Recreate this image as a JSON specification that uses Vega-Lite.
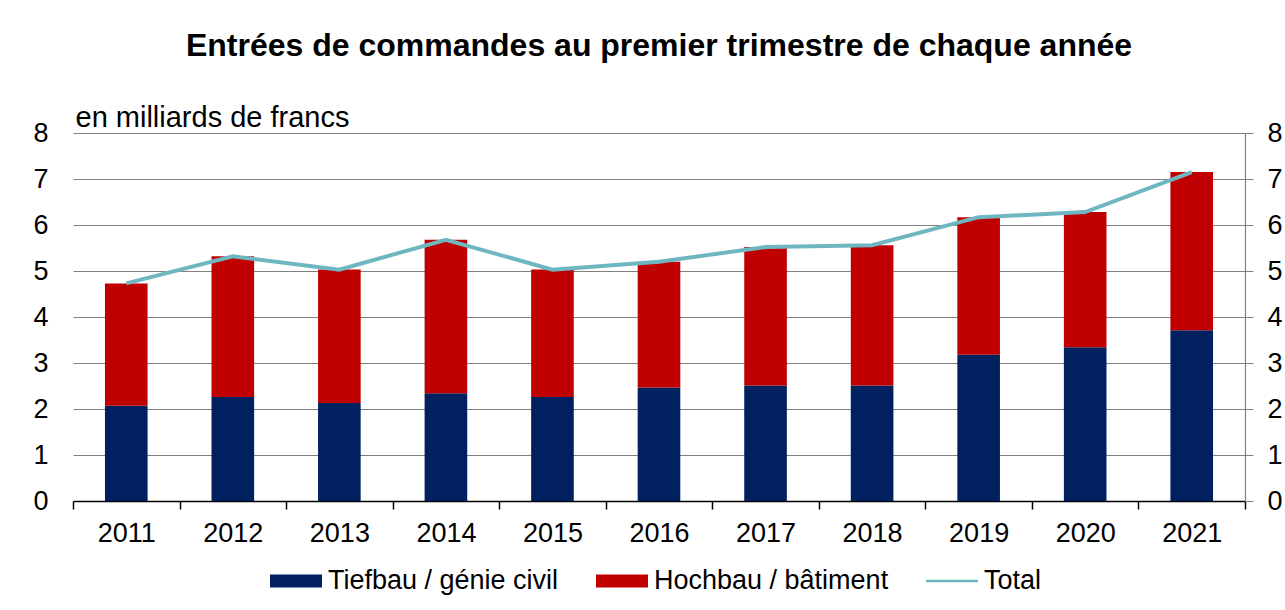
{
  "$schema": "https://vega.github.io/schema/vega-lite/v6.json",
  "width": 1172,
  "height": 368,
  "autosize": {"type": "none"},
  "padding": {"left": 73, "top": 133, "right": 40, "bottom": 109},
  "background": "white",
  "config": {
    "font": "Liberation Sans",
    "view": {"stroke": null}
  },
  "title": {
    "text": "Entrées de commandes au premier trimestre de chaque année",
    "fontSize": 32,
    "fontWeight": "bold",
    "color": "black",
    "anchor": "middle",
    "frame": "group",
    "offset": 40
  },
  "data": {
    "values": [
      {"year": "2011", "series": "Tiefbau / génie civil", "value": 2.07},
      {"year": "2011", "series": "Hochbau / bâtiment", "value": 2.66},
      {"year": "2011", "series": "Total", "value": 4.73},
      {"year": "2012", "series": "Tiefbau / génie civil", "value": 2.26},
      {"year": "2012", "series": "Hochbau / bâtiment", "value": 3.06},
      {"year": "2012", "series": "Total", "value": 5.32},
      {"year": "2013", "series": "Tiefbau / génie civil", "value": 2.13},
      {"year": "2013", "series": "Hochbau / bâtiment", "value": 2.9},
      {"year": "2013", "series": "Total", "value": 5.03},
      {"year": "2014", "series": "Tiefbau / génie civil", "value": 2.34},
      {"year": "2014", "series": "Hochbau / bâtiment", "value": 3.34},
      {"year": "2014", "series": "Total", "value": 5.68},
      {"year": "2015", "series": "Tiefbau / génie civil", "value": 2.26},
      {"year": "2015", "series": "Hochbau / bâtiment", "value": 2.77},
      {"year": "2015", "series": "Total", "value": 5.03},
      {"year": "2016", "series": "Tiefbau / génie civil", "value": 2.47},
      {"year": "2016", "series": "Hochbau / bâtiment", "value": 2.73},
      {"year": "2016", "series": "Total", "value": 5.2},
      {"year": "2017", "series": "Tiefbau / génie civil", "value": 2.51},
      {"year": "2017", "series": "Hochbau / bâtiment", "value": 3.01},
      {"year": "2017", "series": "Total", "value": 5.52},
      {"year": "2018", "series": "Tiefbau / génie civil", "value": 2.51},
      {"year": "2018", "series": "Hochbau / bâtiment", "value": 3.05},
      {"year": "2018", "series": "Total", "value": 5.56},
      {"year": "2019", "series": "Tiefbau / génie civil", "value": 3.18},
      {"year": "2019", "series": "Hochbau / bâtiment", "value": 2.99},
      {"year": "2019", "series": "Total", "value": 6.17},
      {"year": "2020", "series": "Tiefbau / génie civil", "value": 3.34},
      {"year": "2020", "series": "Hochbau / bâtiment", "value": 2.94},
      {"year": "2020", "series": "Total", "value": 6.28},
      {"year": "2021", "series": "Tiefbau / génie civil", "value": 3.71},
      {"year": "2021", "series": "Hochbau / bâtiment", "value": 3.44},
      {"year": "2021", "series": "Total", "value": 7.15}
    ]
  },
  "encoding": {
    "x": {
      "field": "year",
      "type": "ordinal",
      "scale": {"paddingInner": 0, "paddingOuter": 0},
      "axis": {
        "title": null,
        "labelAngle": 0,
        "labelFontSize": 27,
        "labelColor": "black",
        "labelPadding": 11,
        "domainColor": "black",
        "domainWidth": 1.5,
        "tickColor": "black",
        "tickWidth": 1.5,
        "tickSize": 8,
        "tickBand": "extent",
        "grid": false
      }
    },
    "color": {
      "field": "series",
      "type": "nominal",
      "scale": {
        "domain": ["Tiefbau / génie civil", "Hochbau / bâtiment", "Total"],
        "range": ["#002060", "#C00000", "#6FB7C0"]
      },
      "legend": {
        "title": null,
        "orient": "none",
        "legendX": 197,
        "legendY": 422,
        "direction": "horizontal",
        "labelFontSize": 27,
        "labelLimit": 500,
        "labelColor": "black",
        "labelOffset": 6,
        "columnPadding": 37,
        "symbolSize": 2704,
        "symbolType": "M-1,-0.25H1V0.25H-1Z",
        "encode": {
          "symbols": {
            "update": {
              "fill": {"scale": "color", "field": "value"},
              "strokeWidth": {"value": 0},
              "shape": {"signal": "datum.value === 'Total' ? 'M-1,-0.045H1V0.045H-1Z' : 'M-1,-0.25H1V0.25H-1Z'"}
            }
          }
        }
      }
    }
  },
  "layer": [
    {
      "transform": [{"filter": "datum.series !== 'Total'"}],
      "mark": {"type": "bar", "width": {"band": 0.4}},
      "encoding": {
        "y": {
          "field": "value",
          "type": "quantitative",
          "stack": "zero",
          "scale": {"domain": [0, 8], "nice": false},
          "axis": {
            "orient": "left",
            "title": "en milliards de francs",
            "titleAngle": 0,
            "titleAlign": "left",
            "titleBaseline": "alphabetic",
            "titleFontSize": 29,
            "titleFontWeight": "normal",
            "titleColor": "black",
            "titleX": 2,
            "titleY": -7,
            "values": [0, 1, 2, 3, 4, 5, 6, 7, 8],
            "labelFontSize": 27,
            "labelColor": "black",
            "labelPadding": 25,
            "labelOverlap": false,
            "ticks": false,
            "tickSize": 0,
            "domain": false,
            "grid": true,
            "gridColor": "#808080",
            "gridWidth": 1.2
          }
        },
        "order": {"field": "series", "sort": "descending"}
      }
    },
    {
      "transform": [{"filter": "datum.series === 'Total'"}],
      "mark": {"type": "line", "strokeWidth": 4},
      "encoding": {
        "y": {
          "field": "value",
          "type": "quantitative",
          "scale": {"domain": [0, 8], "nice": false},
          "axis": {
            "orient": "right",
            "title": null,
            "values": [0, 1, 2, 3, 4, 5, 6, 7, 8],
            "labelFontSize": 27,
            "labelColor": "black",
            "labelPadding": 14,
            "labelOverlap": false,
            "tickColor": "#808080",
            "tickSize": 8,
            "domainColor": "#808080",
            "domainWidth": 1.2,
            "grid": false
          }
        }
      }
    }
  ],
  "resolve": {"axis": {"y": "independent"}}
}
